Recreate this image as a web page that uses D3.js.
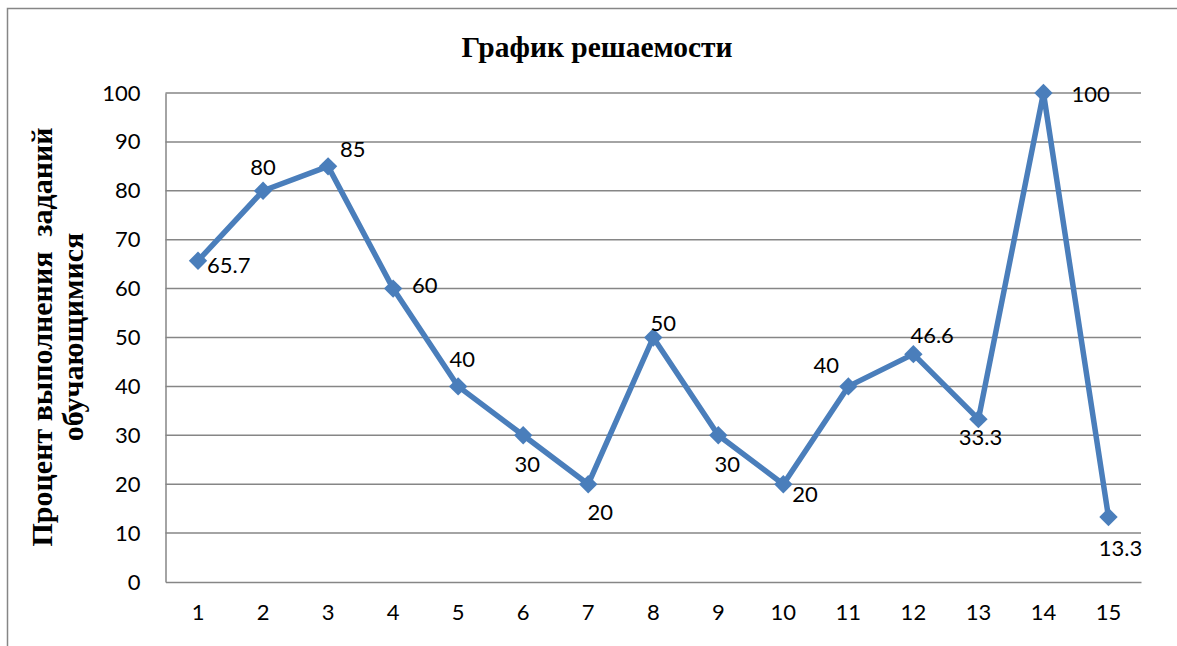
<!DOCTYPE html>
<html>
<head>
<meta charset="utf-8">
<script src="https://cdn.jsdelivr.net/npm/d3@7/dist/d3.min.js"></script>
<style>
  html, body { margin: 0; padding: 0; background: #fff; }
  svg { display: block; }
</style>
</head>
<body>
<svg id="chart" width="1177" height="646"></svg>
<script>
// Task numbers and the share of students who solved each one (%)
const tasks = ["1","2","3","4","5","6","7","8","9","10","11","12","13","14","15"];
const solvedPct = [65.7, 80, 85, 60, 40, 30, 20, 50, 30, 20, 40, 46.6, 33.3, 100, 13.3];
const yTicks = [0, 10, 20, 30, 40, 50, 60, 70, 80, 90, 100];
const titleText = "График решаемости";
const yTitleLines = ["Процент выполнения  заданий", "обучающимися"];

// Where each value label sits relative to its marker: [dx, dy, anchor]
const labelPlacement = [
  [9, 12, "start"], [0, -16, "middle"], [12, -9, "start"], [19, 4, "start"],
  [4, -19, "middle"], [4, 37, "middle"], [12, 36, "middle"], [10, -7, "middle"],
  [9, 37, "middle"], [9, 18, "start"], [-22, -13, "middle"], [-3, -11, "start"],
  [2, 26, "middle"], [28, 9, "start"], [12, 39, "middle"]
];

const svg = d3.select("#chart");
const margin = { left: 165.5, right: 1141, top: 93, bottom: 582 };

const x = d3.scaleBand().domain(tasks).range([margin.left, margin.right]);
const y = d3.scaleLinear().domain([0, 100]).range([margin.bottom, margin.top]);

const gridColor = "#868686";
const lineColor = "#4a7ebb";
const tickFont = "Lato, 'Liberation Sans', sans-serif";
const serif = "'Liberation Serif', 'Times New Roman', serif";

// Outer chart frame
svg.append("rect")
  .attr("x", 7.5).attr("y", 8.5)
  .attr("width", 1200).attr("height", 700)
  .attr("fill", "none").attr("stroke", gridColor).attr("stroke-width", 1.5);

// Horizontal gridlines
svg.append("g")
  .selectAll("line")
  .data(yTicks.filter(d => d > 0))
  .join("line")
  .attr("x1", margin.left).attr("x2", margin.right)
  .attr("y1", d => y(d)).attr("y2", d => y(d))
  .attr("stroke", gridColor).attr("stroke-width", 1.5);

// Y axis
const yAxis = svg.append("g")
  .attr("transform", `translate(${margin.left},0)`)
  .call(d3.axisLeft(y).tickValues(yTicks).tickSize(0).tickPadding(25));
yAxis.select(".domain").attr("stroke", gridColor).attr("stroke-width", 1.5);
yAxis.selectAll("text")
  .attr("font-family", tickFont).attr("font-size", 22).attr("fill", "#000");

// X axis
const xAxis = svg.append("g")
  .attr("transform", `translate(0,${margin.bottom})`)
  .call(d3.axisBottom(x).tickSize(0).tickPadding(22));
xAxis.select(".domain").attr("stroke", gridColor).attr("stroke-width", 1.5);
xAxis.selectAll("text")
  .attr("font-family", tickFont).attr("font-size", 22).attr("fill", "#000");

// Title
svg.append("text")
  .attr("x", 597).attr("y", 57)
  .attr("text-anchor", "middle")
  .attr("font-family", serif).attr("font-weight", "bold").attr("font-size", 29.5)
  .text(titleText);

// Y-axis title (two lines, rotated; keeps the double space)
const yTitle = svg.append("text")
  .attr("transform", "translate(0,337) rotate(-90)")
  .attr("text-anchor", "middle")
  .style("white-space", "pre")
  .attr("font-family", serif).attr("font-weight", "bold").attr("font-size", 30);
yTitle.selectAll("tspan")
  .data(yTitleLines)
  .join("tspan")
  .attr("x", 0)
  .attr("y", (d, i) => 52 + i * 31)
  .text(d => d);

const cx = d => x(d) + x.bandwidth() / 2;
const points = tasks.map((t, i) => ({ t, v: solvedPct[i], i }));

// Series line
svg.append("path")
  .datum(points)
  .attr("fill", "none")
  .attr("stroke", lineColor)
  .attr("stroke-width", 5.5)
  .attr("stroke-linejoin", "round")
  .attr("d", d3.line().x(d => cx(d.t)).y(d => y(d.v)));

// Diamond markers
svg.append("g")
  .selectAll("path")
  .data(points)
  .join("path")
  .attr("transform", d => `translate(${cx(d.t)},${y(d.v)}) rotate(45)`)
  .attr("d", "M-6.5,-6.5H6.5V6.5H-6.5Z")
  .attr("fill", lineColor);

// Value labels
svg.append("g")
  .selectAll("text")
  .data(points)
  .join("text")
  .attr("x", d => cx(d.t) + labelPlacement[d.i][0])
  .attr("y", d => y(d.v) + labelPlacement[d.i][1])
  .attr("text-anchor", d => labelPlacement[d.i][2])
  .attr("font-family", tickFont).attr("font-size", 22).attr("fill", "#000")
  .text(d => d.v);
</script>
</body>
</html>
